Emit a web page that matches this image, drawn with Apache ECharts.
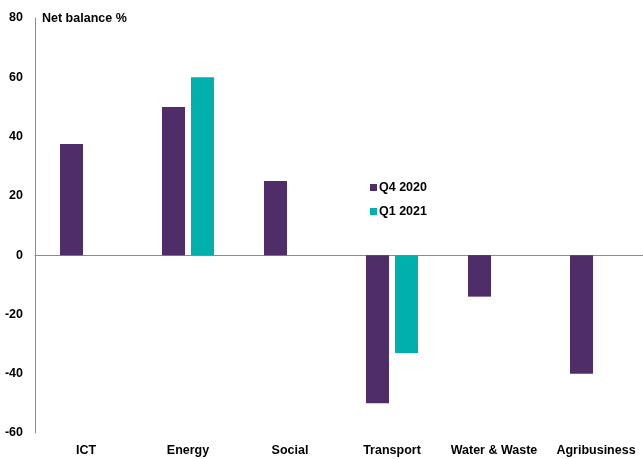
<!DOCTYPE html>
<html>
<head>
<meta charset="utf-8">
<script src="https://cdn.jsdelivr.net/npm/echarts@6/dist/echarts.min.js"></script>
<style>
  html, body { margin: 0; padding: 0; background: #fff; overflow: hidden; }
  /* canvas is a touch wider than the page so the last category isn't squeezed */
  #chart { width: 648px; height: 459px; }
</style>
</head>
<body>
<div id="chart"></div>
<script>
// Sector net balances, two quarters
const sectors = ['ICT', 'Energy', 'Social', 'Transport', 'Water & Waste', 'Agribusiness'];
const q4_2020 = [37.5, 50, 25, -50, -14, -40];
const q1_2021 = [null, 60, null, -33, null, null];
const seriesNames = ['Q4 2020', 'Q1 2021'];
const yTicks = { min: -60, max: 80, step: 20 };

const FONT = '"Liberation Sans", Arial, sans-serif';
const FS = 12.5;
const PURPLE = '#4e2d69';
const TEAL = '#00b0ad';

const chart = echarts.init(document.getElementById('chart'));
chart.setOption({
  animation: false,
  backgroundColor: '#ffffff',
  title: {
    text: 'Net balance %',
    left: 37,
    top: 7,
    textStyle: { fontFamily: FONT, fontSize: FS, fontWeight: 'bold', color: '#000' }
  },
  legend: {
    data: seriesNames,
    orient: 'vertical',
    left: 370,
    top: 181,
    padding: 0,
    icon: 'rect',
    itemWidth: 7,
    itemHeight: 7,
    itemGap: 11,
    textStyle: { fontFamily: FONT, fontSize: FS, fontWeight: 'bold', color: '#000', padding: [0, 0, 0, -3] }
  },
  grid: { left: 35, right: 1, top: 18, bottom: 26, containLabel: false },
  xAxis: [
    {
      type: 'category',
      data: sectors,
      axisLine: { show: true, onZero: true, lineStyle: { color: '#8c8c8c', width: 1 } },
      axisTick: { show: false },
      axisLabel: { show: false }
    },
    {
      type: 'category',
      data: sectors,
      position: 'bottom',
      axisLine: { show: false, onZero: false },
      axisTick: { show: false },
      axisLabel: { interval: 0, fontFamily: FONT, fontSize: FS, fontWeight: 'bold', color: '#000', margin: 11 }
    }
  ],
  yAxis: {
    type: 'value',
    min: yTicks.min,
    max: yTicks.max,
    interval: yTicks.step,
    axisLine: { show: true, lineStyle: { color: '#8c8c8c', width: 1 } },
    axisTick: { show: false },
    splitLine: { show: false },
    axisLabel: { fontFamily: FONT, fontSize: FS, fontWeight: 'bold', color: '#000', margin: 12 }
  },
  series: [
    {
      name: seriesNames[0],
      type: 'bar',
      xAxisIndex: 0,
      data: q4_2020,
      itemStyle: { color: PURPLE },
      barWidth: 23,
      barGap: '26%'
    },
    {
      name: seriesNames[1],
      type: 'bar',
      xAxisIndex: 0,
      data: q1_2021,
      itemStyle: { color: TEAL },
      barWidth: 23,
      barGap: '26%'
    }
  ]
});
</script>
</body>
</html>
